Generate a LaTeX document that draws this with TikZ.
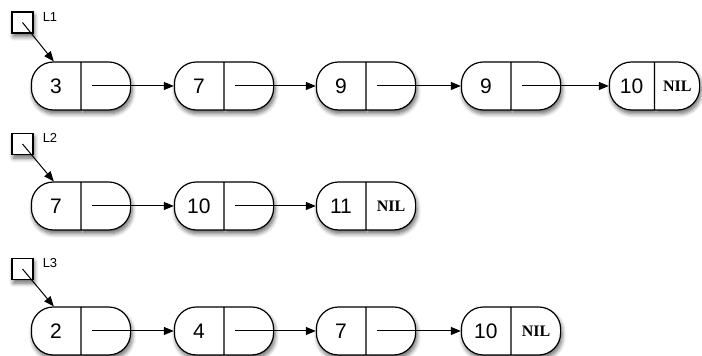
\documentclass[tikz,border=0pt]{standalone}
\usepackage{fontspec}
\setmainfont{Liberation Sans}
\newfontfamily\nilfont{Liberation Serif}
\usetikzlibrary{arrows.meta, shapes.multipart, shadows.blur}

\newcommand{\nilmark}{{\nilfont\bfseries\fontsize{8}{9}\selectfont NIL}}

\begin{document}
\begin{tikzpicture}[x=0.5pt, y=-0.5pt, font=\fontsize{10.5}{12}\selectfont,
  cell/.style={rectangle split, rectangle split horizontal, rectangle split parts=2,
               draw, line width=0.6pt, rounded corners=11pt, fill=white,
               text width=24.5pt, align=center, inner xsep=0pt, inner ysep=0pt,
               minimum height=24pt,
               blur shadow={shadow xshift=0.7pt, shadow yshift=-1.8pt,
                            shadow blur steps=6, shadow opacity=60}},
  head/.style={draw, line width=0.6pt, fill=white, minimum size=10.5pt, inner sep=0pt,
               blur shadow={shadow xshift=0.7pt, shadow yshift=-1.8pt,
                            shadow blur steps=5, shadow opacity=60}},
  lab/.style={font=\fontsize{6.5}{7}\selectfont},
  arr/.style={-{Triangle[length=5pt, width=4pt]}, line width=0.5pt}
]
\useasboundingbox (0,0) rectangle (702,356);

% list L1
\node[cell] (a1) at (81,86)  {3\nodepart{two}\strut};
\node[cell] (a2) at (224,86) {7\nodepart{two}\strut};
\node[cell] (a3) at (366,86) {9\nodepart{two}\strut};
\node[cell] (a4) at (511,86) {9\nodepart{two}\strut};
\node[cell, text width=22.25pt] (a5) at (654.5,86) {10\nodepart{two}\nilmark};

% list L2
\node[cell] (b1) at (81,206)  {7\nodepart{two}\strut};
\node[cell] (b2) at (224,206) {10\nodepart{two}\strut};
\node[cell] (b3) at (366,206) {11\nodepart{two}\nilmark};

% list L3
\node[cell] (c1) at (81,331)  {2\nodepart{two}\strut};
\node[cell] (c2) at (224,331) {4\nodepart{two}\strut};
\node[cell] (c3) at (366,331) {7\nodepart{two}\strut};
\node[cell] (c4) at (511,331) {10\nodepart{two}\nilmark};

\foreach \a/\b in {a1/a2, a2/a3, a3/a4, a4/a5, b1/b2, b2/b3, c1/c2, c2/c3, c3/c4}
  \draw[arr] ([xshift=5.5pt]\a.center) -- (\b.west);

% head pointers
\node[head] (h1) at (22.5,22.5) {};
\node[head] (h2) at (22.5,144)  {};
\node[head] (h3) at (22.5,269)  {};
\node[lab] (l1) at (50,17)  {L1};
\node[lab] (l2) at (50,138) {L2};
\node[lab] (l3) at (50,263) {L3};

\foreach \h/\n in {h1/a1, h2/b1, h3/c1}
  \draw[arr] (\h.center) -- ([xshift=11.5pt]\n.north west);
\end{tikzpicture}
\end{document}
